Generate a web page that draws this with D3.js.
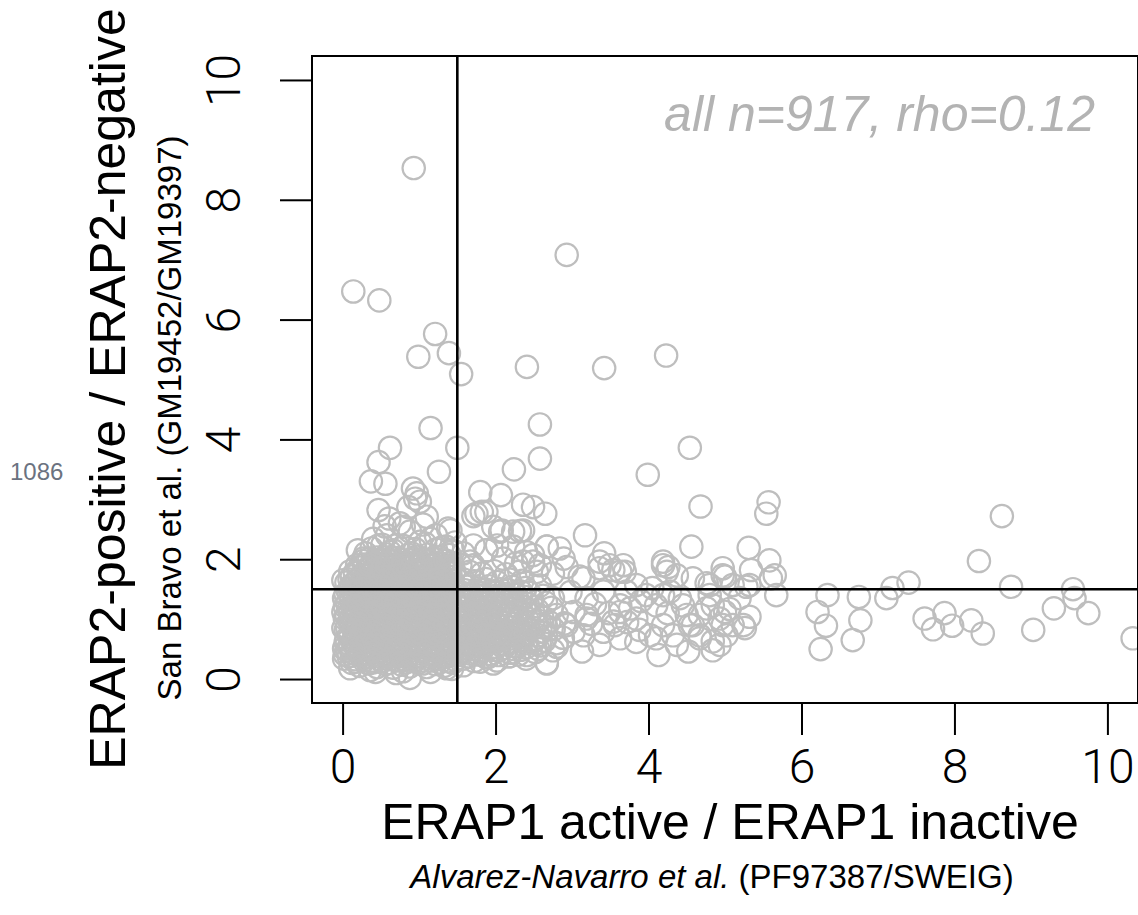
<!DOCTYPE html>
<html>
<head>
<meta charset="utf-8">
<script src="https://cdn.jsdelivr.net/npm/d3@7"></script>
<style>
    body { margin: 0; background: #ffffff; }
    svg { display: block; }
    text { font-family: "Liberation Sans", Arial, Helvetica, sans-serif; }
    .tick text { font-family: Roboto, "Liberation Sans", Arial, sans-serif; font-weight: 300; }
</style>
</head>
<body>
<div class="ratio-scatterplot"></div>
<script>

// axis ticks + cut-off
const x_ticks = [0, 2, 4, 6, 8, 10];
const y_ticks = [0, 2, 4, 6, 8, 10];
const cutoff = 1.5;

// labels
const x_title = "ERAP1 active / ERAP1 inactive";
const x_source = "(PF97387/SWEIG)";
const x_source_authors = "Alvarez-Navarro et al.";
const y_title = "ERAP2-positive / ERAP2-negative";
const y_source = "San Bravo et al.  (GM19452/GM19397)";
const stat_label = "all n=917, rho=0.12";
const side_note = "1086";

// points as [ERAP1 ratio, ERAP2 ratio]
// dense block around the origin
const cluster_points = [
    [0.88,0.02],[0.43,0.12],[0.10,0.18],[1.43,0.17],[0.70,0.10],[1.15,0.12],[0.36,0.15],[0.79,0.13],[1.36,0.18],[0.02,0.34],
    [0.12,0.27],[0.22,0.22],[0.34,0.26],[0.45,0.20],[0.56,0.25],[0.66,0.19],[0.77,0.24],[0.88,0.21],[0.99,0.27],[1.10,0.20],[1.21,0.25],[1.33,0.22],[1.44,0.27],
    [0.08,0.38],[0.17,0.33],[0.28,0.36],[0.39,0.31],[0.50,0.37],[0.61,0.33],[0.71,0.38],[0.82,0.32],[0.93,0.36],[1.04,0.31],[1.15,0.37],[1.26,0.33],[1.37,0.38],[1.47,0.32],
    [0.06,0.48],[0.13,0.44],[0.24,0.47],[0.34,0.42],[0.45,0.46],[0.55,0.43],[0.66,0.48],[0.76,0.42],[0.87,0.46],[0.98,0.43],[1.09,0.47],[1.20,0.42],[1.31,0.46],[1.41,0.44],
    [0.09,0.57],[0.19,0.53],[0.30,0.56],[0.40,0.52],[0.51,0.57],[0.61,0.54],[0.72,0.58],[0.82,0.52],[0.93,0.56],[1.03,0.53],[1.14,0.57],[1.24,0.52],[1.35,0.56],[1.46,0.54],
    [0.02,0.51],[0.05,0.66],[0.14,0.63],[0.25,0.67],[0.35,0.62],[0.46,0.66],[0.56,0.64],[0.67,0.68],[0.77,0.62],[0.88,0.66],[0.98,0.63],[1.09,0.67],[1.19,0.62],[1.30,0.66],[1.40,0.64],
    [0.10,0.77],[0.20,0.73],[0.31,0.76],[0.41,0.72],[0.52,0.77],[0.62,0.73],[0.73,0.78],[0.83,0.72],[0.94,0.76],[1.04,0.73],[1.15,0.77],[1.25,0.72],[1.36,0.76],[1.46,0.74],
    [0.01,0.85],[0.06,0.86],[0.15,0.83],[0.26,0.87],[0.36,0.82],[0.47,0.86],[0.57,0.84],[0.68,0.88],[0.78,0.82],[0.89,0.86],[0.99,0.83],[1.10,0.87],[1.20,0.82],[1.31,0.86],[1.41,0.84],
    [0.09,0.97],[0.19,0.93],[0.30,0.96],[0.40,0.92],[0.51,0.97],[0.61,0.93],[0.72,0.98],[0.82,0.92],[0.93,0.96],[1.03,0.93],[1.14,0.97],[1.24,0.92],[1.35,0.96],[1.45,0.94],
    [0.05,1.06],[0.14,1.03],[0.25,1.07],[0.35,1.02],[0.46,1.06],[0.56,1.04],[0.67,1.08],[0.77,1.02],[0.88,1.06],[0.98,1.03],[1.09,1.07],[1.19,1.02],[1.30,1.06],[1.40,1.04],
    [0.01,1.12],[0.08,1.17],[0.18,1.13],[0.29,1.16],[0.39,1.12],[0.50,1.17],[0.60,1.13],[0.71,1.18],[0.81,1.12],[0.92,1.16],[1.02,1.13],[1.13,1.17],[1.23,1.12],[1.34,1.16],[1.44,1.14],
    [0.06,1.26],[0.15,1.23],[0.26,1.27],[0.36,1.22],[0.47,1.26],[0.57,1.24],[0.68,1.28],[0.78,1.22],[0.89,1.26],[0.99,1.23],[1.10,1.27],[1.20,1.22],[1.31,1.26],[1.41,1.24],
    [0.02,1.35],[0.10,1.37],[0.20,1.33],[0.31,1.36],[0.41,1.32],[0.52,1.37],[0.62,1.33],[0.73,1.38],[0.83,1.32],[0.94,1.36],[1.04,1.33],[1.15,1.37],[1.25,1.32],[1.36,1.36],[1.46,1.34],
    [0.07,1.46],[0.16,1.43],[0.27,1.47],[0.37,1.42],[0.48,1.46],[0.58,1.44],[0.69,1.48],[0.79,1.42],[0.90,1.46],[1.00,1.43],[1.11,1.47],[1.21,1.42],[1.32,1.46],[1.42,1.44],
    [0.12,1.57],[0.21,1.53],[0.32,1.56],[0.42,1.52],[0.53,1.57],[0.63,1.53],[0.74,1.58],[0.84,1.52],[0.95,1.56],[1.05,1.53],[1.16,1.57],[1.26,1.52],[1.37,1.56],[1.46,1.54],
    [0.01,1.65],[0.09,1.66],[0.18,1.63],[0.28,1.67],[0.38,1.62],[0.49,1.66],[0.59,1.64],[0.70,1.68],[0.80,1.62],[0.91,1.66],[1.01,1.63],[1.12,1.67],[1.22,1.62],[1.33,1.66],[1.43,1.64],
    [0.16,1.77],[0.26,1.73],[0.36,1.76],[0.46,1.72],[0.57,1.77],[0.67,1.73],[0.78,1.78],[0.88,1.72],[0.99,1.76],[1.09,1.73],[1.20,1.77],[1.30,1.72],[1.41,1.76],
    [0.19,1.90],[0.22,1.86],[0.32,1.83],[0.42,1.87],[0.52,1.82],[0.63,1.86],[0.73,1.84],[0.84,1.88],[0.94,1.82],[1.05,1.86],[1.15,1.83],[1.26,1.87],[1.36,1.82],
    [0.27,1.97],[0.38,1.93],[0.48,1.96],[0.59,1.92],[0.69,1.97],[0.80,1.93],[0.90,1.98],[1.01,1.92],[1.11,1.96],[1.22,1.93],[1.33,1.97],[1.43,1.94],
    [0.27,2.01],[0.45,2.03],[0.58,2.08],[0.72,2.02],[0.86,2.07],[0.97,2.04],[1.12,2.08],[1.27,2.03],[1.40,2.07],
    [0.38,2.18],[0.52,2.24],[0.66,2.15],[0.80,2.22],[0.95,2.17],[1.08,2.26],[1.22,2.16],[1.35,2.21],[1.47,2.28],
    [0.30,2.10],[0.62,2.12],[0.90,2.10],[1.22,2.40],[1.30,2.20],[1.45,2.14],[0.75,2.60],[1.05,2.58],[0.55,2.55],[0.20,2.15]
];

// second layer of the same block, sitting between the rows above
const cluster_fill_points = [
    [0.17,0.29],[0.28,0.31],[0.40,0.28],[0.51,0.30],[0.61,0.27],[0.72,0.31],[0.83,0.28],[0.94,0.30],[1.05,0.26],[1.16,0.31],[1.27,0.28],[1.38,0.30],
    [0.03,0.41],[0.12,0.39],[0.23,0.42],[0.33,0.38],[0.44,0.41],[0.55,0.40],[0.65,0.43],[0.76,0.38],[0.87,0.41],[0.98,0.39],[1.09,0.42],[1.20,0.38],[1.31,0.41],[1.42,0.40],
    [0.10,0.51],[0.19,0.49],[0.29,0.52],[0.40,0.48],[0.50,0.51],[0.60,0.50],[0.71,0.53],[0.81,0.48],[0.92,0.51],[1.02,0.49],[1.13,0.52],[1.24,0.48],[1.35,0.51],[1.46,0.50],
    [0.04,0.61],[0.14,0.59],[0.24,0.62],[0.35,0.58],[0.45,0.61],[0.56,0.60],[0.66,0.63],[0.77,0.58],[0.87,0.61],[0.98,0.59],[1.08,0.62],[1.19,0.58],[1.30,0.61],[1.40,0.60],
    [0.09,0.71],[0.19,0.69],[0.30,0.72],[0.40,0.68],[0.51,0.71],[0.61,0.70],[0.72,0.73],[0.82,0.68],[0.93,0.71],[1.03,0.69],[1.14,0.72],[1.24,0.68],[1.35,0.71],[1.45,0.70],
    [0.04,0.81],[0.15,0.79],[0.25,0.82],[0.36,0.78],[0.46,0.81],[0.57,0.80],[0.67,0.83],[0.78,0.78],[0.88,0.81],[0.99,0.79],[1.09,0.82],[1.20,0.78],[1.30,0.81],[1.41,0.80],
    [0.11,0.91],[0.21,0.89],[0.31,0.92],[0.42,0.88],[0.52,0.91],[0.63,0.90],[0.73,0.93],[0.84,0.88],[0.94,0.91],[1.05,0.89],[1.15,0.92],[1.26,0.88],[1.36,0.91],[1.47,0.90],
    [0.03,1.01],[0.14,0.99],[0.24,1.02],[0.35,0.98],[0.45,1.01],[0.56,1.00],[0.66,1.03],[0.77,0.98],[0.87,1.01],[0.98,0.99],[1.08,1.02],[1.19,0.98],[1.29,1.01],[1.40,1.00],
    [0.10,1.11],[0.20,1.09],[0.30,1.12],[0.41,1.08],[0.51,1.11],[0.62,1.10],[0.72,1.13],[0.83,1.08],[0.93,1.11],[1.04,1.09],[1.14,1.12],[1.25,1.08],[1.35,1.11],[1.46,1.10],
    [0.03,1.21],[0.13,1.19],[0.23,1.22],[0.34,1.18],[0.44,1.21],[0.55,1.20],[0.65,1.23],[0.76,1.18],[0.86,1.21],[0.97,1.19],[1.07,1.22],[1.18,1.18],[1.28,1.21],[1.39,1.20],
    [0.11,1.31],[0.21,1.29],[0.32,1.32],[0.42,1.28],[0.53,1.31],[0.63,1.30],[0.74,1.33],[0.84,1.28],[0.95,1.31],[1.05,1.29],[1.16,1.32],[1.26,1.28],[1.37,1.31],[1.47,1.30],
    [0.04,1.41],[0.14,1.39],[0.25,1.42],[0.35,1.38],[0.46,1.41],[0.56,1.40],[0.67,1.43],[0.77,1.38],[0.88,1.41],[0.98,1.39],[1.09,1.42],[1.19,1.38],[1.30,1.41],[1.40,1.40],
    [0.09,1.51],[0.19,1.49],[0.30,1.52],[0.40,1.48],[0.51,1.51],[0.61,1.50],[0.72,1.53],[0.82,1.48],[0.93,1.51],[1.03,1.49],[1.14,1.52],[1.24,1.48],[1.35,1.51],[1.45,1.50],
    [0.05,1.61],[0.15,1.59],[0.26,1.62],[0.36,1.58],[0.47,1.61],[0.57,1.60],[0.68,1.63],[0.78,1.58],[0.89,1.61],[0.99,1.59],[1.10,1.62],[1.20,1.58],[1.31,1.61],[1.41,1.60],
    [0.12,1.71],[0.22,1.69],[0.33,1.72],[0.43,1.68],[0.54,1.71],[0.64,1.70],[0.75,1.73],[0.85,1.68],[0.96,1.71],[1.06,1.69],[1.17,1.72],[1.27,1.68],[1.38,1.71],
    [0.10,1.80],[0.21,1.79],[0.31,1.82],[0.41,1.78],[0.52,1.81],[0.62,1.80],[0.73,1.83],[0.83,1.78],[0.94,1.81],[1.04,1.79],[1.15,1.82],[1.25,1.78],[1.36,1.81],[1.46,1.80],
    [0.28,1.91],[0.37,1.89],[0.47,1.92],[0.58,1.88],[0.68,1.91],[0.79,1.90],[0.89,1.93],[1.00,1.88],[1.10,1.91],[1.21,1.89],[1.31,1.92],[1.42,1.88],
    [0.35,2.01],[0.52,1.99],[0.65,2.02],[0.79,1.98],[0.92,2.01],[1.05,1.99],[1.19,2.02],[1.34,1.98]
];

// spread to the right of the cut-off (1.5 - 3)
const middle_points = [
    [1.58,0.23],[1.80,0.29],[1.97,0.26],[2.41,0.40],
    [1.58,0.34],[1.72,0.30],[1.88,0.36],[2.02,0.31],[2.18,0.38],[2.40,0.34],[2.67,0.27],
    [1.54,0.46],[1.66,0.43],[1.79,0.47],[1.92,0.42],[2.05,0.48],[2.19,0.44],[2.33,0.49],[2.52,0.45],[2.75,0.48],
    [1.60,0.58],[1.73,0.55],[1.86,0.59],[1.99,0.54],[2.12,0.58],[2.26,0.55],[2.41,0.60],[2.58,0.56],[2.80,0.60],
    [1.55,0.70],[1.68,0.67],[1.81,0.71],[1.94,0.66],[2.07,0.70],[2.21,0.68],[2.35,0.72],[2.50,0.67],[2.66,0.71],[2.88,0.69],
    [1.62,0.82],[1.75,0.79],[1.88,0.83],[2.01,0.78],[2.14,0.82],[2.28,0.80],[2.43,0.84],[2.59,0.79],[2.76,0.83],
    [1.57,0.94],[1.70,0.91],[1.83,0.95],[1.96,0.90],[2.09,0.94],[2.23,0.92],[2.37,0.96],[2.53,0.91],[2.70,0.95],[2.90,0.93],
    [1.63,1.06],[1.76,1.03],[1.89,1.07],[2.02,1.02],[2.15,1.06],[2.29,1.04],[2.44,1.08],[2.61,1.03],[2.80,1.07],
    [1.55,1.18],[1.68,1.15],[1.81,1.19],[1.95,1.14],[2.08,1.18],[2.22,1.16],[2.38,1.20],[2.55,1.15],[2.73,1.19],
    [1.61,1.30],[1.74,1.27],[1.87,1.31],[2.01,1.26],[2.16,1.30],[2.31,1.28],[2.48,1.32],[2.66,1.27],
    [1.56,1.42],[1.69,1.39],[1.83,1.43],[1.97,1.38],[2.12,1.42],[2.27,1.40],[2.44,1.44],[2.62,1.39],
    [1.63,1.54],[1.77,1.51],[1.91,1.55],[2.06,1.50],[2.22,1.54],[2.39,1.52],[2.58,1.56],
    [1.58,1.66],[1.72,1.63],[1.87,1.67],[2.02,1.62],[2.18,1.66],[2.35,1.64],
    [1.66,1.79],[1.82,1.76],[1.98,1.80],[2.14,1.75],[2.31,1.79],[2.54,1.79],[2.75,1.76],
    [1.58,2.10],[1.54,1.90],[1.71,1.90],[1.67,1.96],[2.10,2.01],[2.27,1.93],[2.49,1.96],[2.40,2.12],
    [2.23,2.21],[1.71,2.23],[1.88,2.15],[2.36,1.96],[2.58,1.90],[2.49,2.07],[2.02,2.23],[2.67,2.21],[2.84,2.18],
    [1.52,0.40],[1.65,0.38],[1.78,0.41],[1.91,0.37],[2.04,0.40],[2.17,0.38],[2.30,0.41],
    [1.59,0.52],[1.72,0.50],[1.85,0.53],[1.98,0.49],[2.11,0.52],[2.25,0.50],[2.40,0.53],[2.56,0.50],
    [1.53,0.64],[1.66,0.62],[1.79,0.65],[1.92,0.61],[2.05,0.64],[2.19,0.62],[2.33,0.65],[2.48,0.61],[2.64,0.64],
    [1.60,0.76],[1.73,0.74],[1.86,0.77],[1.99,0.73],[2.12,0.76],[2.26,0.74],[2.41,0.77],[2.56,0.73],
    [1.54,0.88],[1.67,0.86],[1.80,0.89],[1.93,0.85],[2.06,0.88],[2.20,0.86],[2.34,0.89],[2.50,0.85],[2.66,0.88],
    [1.60,1.00],[1.73,0.98],[1.86,1.01],[1.99,0.97],[2.12,1.00],[2.26,0.98],[2.41,1.01],[2.57,0.97],
    [1.53,1.12],[1.66,1.10],[1.79,1.13],[1.92,1.09],[2.05,1.12],[2.19,1.10],[2.34,1.13],[2.50,1.09],
    [1.59,1.24],[1.72,1.22],[1.85,1.25],[1.98,1.21],[2.12,1.24],[2.27,1.22],[2.42,1.25],
    [1.54,1.36],[1.67,1.34],[1.80,1.37],[1.94,1.33],[2.08,1.36],[2.23,1.34],[2.38,1.37],
    [1.60,1.48],[1.74,1.46],[1.88,1.49],[2.02,1.45],[2.17,1.48],[2.33,1.46]
];

// band from 3 to ~5.7
const band_points = [
    [2.93,1.87],[3.10,1.71],[3.36,1.85],[3.49,1.90],[3.63,1.79],[4.19,1.90],[4.24,1.79],[4.37,1.73],[4.58,1.68],[4.76,1.60],
    [4.97,1.73],[5.10,1.57],[3.54,1.82],[3.69,1.79],[3.15,1.68],[3.84,1.57],[4.80,1.57],[3.42,2.10],[3.36,1.96],[3.67,1.90],
    [4.19,1.96],[4.26,1.87],[4.97,1.85],[3.17,2.40],[4.56,2.21],[2.89,2.01],
    [3.71,1.46],[3.97,1.40],[4.10,1.23],[4.41,1.35],[4.50,1.07],[4.76,1.18],[4.93,1.01],[5.10,0.90],[5.02,0.73],[4.19,0.90],
    [4.10,0.68],[4.32,0.73],[3.84,1.01],[3.54,0.96],[3.63,0.68],[3.41,0.79],[3.19,1.07],[3.02,1.12],[2.75,1.35],[3.41,1.46],
    [3.19,1.35],[2.93,0.90],[3.15,0.73],[3.76,1.18],[3.63,1.23],[4.58,0.90],[4.67,0.68],[4.37,0.57],[3.84,0.62],[3.36,0.57],
    [3.13,0.46],[4.13,0.40],[4.52,0.46],[2.67,0.26],[2.80,0.54],[4.84,0.48],
    [3.63,1.12],[3.56,0.90],[4.02,0.73],[4.84,0.63],[4.19,1.40],[4.45,1.23],[4.54,0.90],[4.67,0.73],[3.02,0.79],[3.19,1.01],
    [4.80,1.40],[4.84,1.23],[5.00,1.12],[5.19,1.35],[5.24,0.90],[5.32,1.04],[4.97,0.90],[4.67,1.07],[4.93,0.57],[5.32,1.57],
    [5.06,1.17],[5.26,0.85],[4.05,1.52],[4.28,1.46],[3.90,1.30],[3.30,1.25],[3.48,1.10],[2.98,1.45],[3.25,0.92],[3.88,0.82],
    [4.25,1.10],[3.72,0.95],
    [5.57,2.95],[5.54,2.76],[5.31,2.19],[5.58,1.98],[5.34,1.82],[5.65,1.73],[5.60,1.68],[5.67,1.40],[5.00,1.71],[5.28,1.54]
];

// far right (ERAP1 ratio > 6)
const far_points = [
    [6.34,1.40],[6.21,1.12],[6.32,0.89],[6.25,0.50],[6.75,1.37],[6.77,0.98],[6.67,0.65],[7.40,1.61],[7.19,1.52],[7.11,1.35],
    [7.61,1.01],[7.72,0.83],[7.87,1.10],[7.97,0.89],[8.22,0.98],[8.37,0.76],[8.62,2.72],[8.32,1.97],[8.74,1.54],[9.03,0.82],
    [9.30,1.18],[9.55,1.50],[9.57,1.35],[9.75,1.10],[10.33,0.68]
];

// high ERAP2 ratio
const upper_points = [
    [0.93,8.53],[2.93,7.08],[0.14,6.47],[0.48,6.32],[1.21,5.76],[0.99,5.38],[1.39,5.44],[1.55,5.09],[2.41,5.21],[3.42,5.19],
    [4.23,5.40],[1.15,4.19],[2.58,4.25],[1.50,3.86],[0.62,3.86],[4.54,3.86],[2.58,3.68],[0.47,3.62],[1.26,3.46],[2.24,3.50],
    [3.99,3.41],[0.37,3.30],[0.56,3.26],[0.92,3.18],[0.97,3.10],[0.95,3.01],[4.68,2.88],[1.80,3.12],[2.07,3.07],[0.47,2.82],
    [0.61,2.68],[1.10,2.71],[0.86,2.87],[1.01,2.96],[1.71,2.72],[1.82,2.79],[2.36,2.91],[2.49,2.87],[2.65,2.76],[2.32,2.47],
    [2.06,2.46],[2.67,2.21],[1.41,2.48],[0.40,2.34],[0.58,2.40],[0.47,2.23],[0.80,2.54],[0.88,2.46],[0.71,2.23],[1.01,2.29],
    [1.15,2.34],[1.38,2.51],[1.75,2.76],[1.88,2.79],[1.97,2.54],[2.08,2.48],[2.23,2.46],[2.36,2.48],[1.88,2.15]
];

const all_points = cluster_points.concat(cluster_fill_points, middle_points, band_points, far_points, upper_points);

// constants
const width = 1138;
const height = 915;
const plot_left = 312;
const plot_right = 1138;
const plot_top = 56;
const plot_bottom = 703;
const ink = "#000000";
const dot_color = "#bebebe";

let svg = d3.select(".ratio-scatterplot").append("svg")
    .attr("width", width)
    .attr("height", height);

// scales (R style: 4% padding around 0..10)
const x_scale = d3.scaleLinear()
    .domain([-0.4, 10.4])
    .range([plot_left, plot_right]);

const y_scale = d3.scaleLinear()
    .domain([-0.4, 10.4])
    .range([plot_bottom, plot_top]);

// points
svg.append("g")
    .selectAll(".dot")
    .data(all_points).enter()
    .append("circle")
    .attr("class", "dot")
    .attr("cx", d => x_scale(d[0]))
    .attr("cy", d => y_scale(d[1]))
    .attr("r", 11.2)
    .attr("fill", "none")
    .attr("stroke", dot_color)
    .attr("stroke-width", 2.2);

// cut-off lines
svg.append("line")
    .attr("x1", x_scale(cutoff)).attr("x2", x_scale(cutoff))
    .attr("y1", plot_top).attr("y2", plot_bottom)
    .attr("stroke", ink).attr("stroke-width", 2.6);

svg.append("line")
    .attr("x1", plot_left).attr("x2", plot_right)
    .attr("y1", y_scale(cutoff)).attr("y2", y_scale(cutoff))
    .attr("stroke", ink).attr("stroke-width", 2.6);

// box
svg.append("rect")
    .attr("x", plot_left)
    .attr("y", plot_top)
    .attr("width", plot_right - plot_left)
    .attr("height", plot_bottom - plot_top)
    .attr("fill", "none")
    .attr("stroke", ink)
    .attr("stroke-width", 2);

// x axis
const x_axis = d3.axisBottom(x_scale)
    .tickValues(x_ticks)
    .tickSize(31)
    .tickSizeOuter(0);

svg.append("g")
    .attr("transform", "translate(0, " + (plot_bottom + 1) + ")")
    .attr("font-family", null)
    .attr("font-size", null)
    .call(x_axis)
    .call(g => g.select(".domain").remove())
    .call(g => g.selectAll("line").attr("stroke", ink).attr("stroke-width", 2))
    .call(g => g.selectAll("text")
        .attr("y", 79)
        .attr("dy", null)
        .attr("fill", ink)
        .attr("font-size", 48));

// y axis
const y_axis = d3.axisLeft(y_scale)
    .tickValues(y_ticks)
    .tickSize(31)
    .tickSizeOuter(0);

svg.append("g")
    .attr("transform", "translate(" + (plot_left - 1) + ", 0)")
    .attr("font-family", null)
    .attr("font-size", null)
    .call(y_axis)
    .call(g => g.select(".domain").remove())
    .call(g => g.selectAll("line").attr("stroke", ink).attr("stroke-width", 2))
    .call(g => g.selectAll("text")
        .attr("x", null)
        .attr("dy", null)
        .attr("text-anchor", "middle")
        .attr("transform", "translate(-71, 0) rotate(-90)")
        .attr("fill", ink)
        .attr("font-size", 48));

// axis titles
svg.append("text")
    .attr("text-anchor", "middle")
    .attr("x", 730)
    .attr("y", 839)
    .attr("font-size", 50)
    .text(x_title);

let source_text = svg.append("text")
    .attr("text-anchor", "middle")
    .attr("x", 712)
    .attr("y", 888)
    .attr("font-size", 33);
source_text.append("tspan").attr("font-style", "italic").text(x_source_authors);
source_text.append("tspan").text(" " + x_source);

svg.append("text")
    .attr("text-anchor", "middle")
    .attr("transform", "translate(125, 389) rotate(-90)")
    .attr("font-size", 50)
    .text(y_title);

svg.append("text")
    .attr("text-anchor", "middle")
    .attr("transform", "translate(181, 418) rotate(-90)")
    .attr("font-size", 33)
    .text(y_source);

// correlation note
svg.append("text")
    .attr("text-anchor", "end")
    .attr("x", 1095)
    .attr("y", 131)
    .attr("font-size", 50)
    .attr("font-style", "italic")
    .attr("fill", "#b3b3b3")
    .text(stat_label);

// stray label on the left margin
svg.append("text")
    .attr("x", 10)
    .attr("y", 480)
    .attr("font-family", "'Open Sans', sans-serif")
    .attr("font-size", 24)
    .attr("fill", "#6b7280")
    .text(side_note);

</script>
</body>
</html>
